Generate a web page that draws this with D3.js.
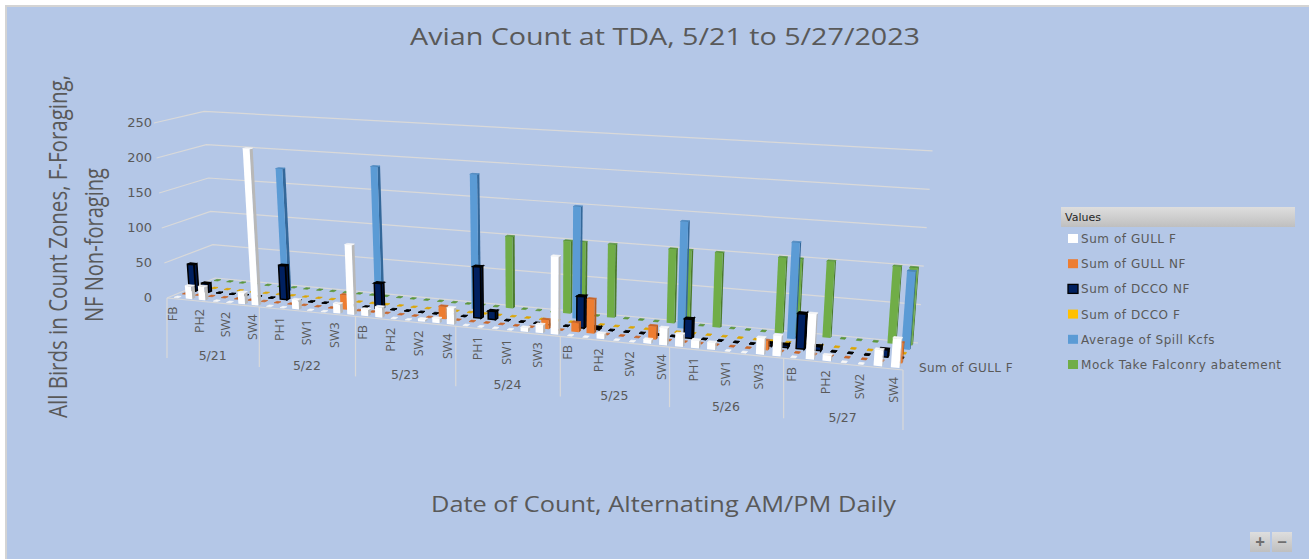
<!DOCTYPE html>
<html>
<head>
<meta charset="utf-8">
<script src="https://cdn.jsdelivr.net/npm/d3@7"></script>
<style>
  html, body { margin: 0; padding: 0; background: #ffffff; }
  text { font-family: "Open Sans", sans-serif; fill: #595959; }
  .wide { font-family: "DejaVu Sans", sans-serif; }
</style>
</head>
<body>
<svg id="chart" width="1309" height="559"></svg>
<script>
const days = ['5/21', '5/22', '5/23', '5/24', '5/25', '5/26', '5/27'];
const zones = ['FB', 'PH1', 'PH2', 'SW1', 'SW2', 'SW3', 'SW4'];
const yTicks = [0, 50, 100, 150, 200, 250];
const seriesNames = ['Sum of GULL F', 'Sum of GULL NF', 'Sum of DCCO NF', 'Sum of DCCO F', 'Average of Spill Kcfs', 'Mock Take Falconry abatement'];

// one row per day, FB..SW4
const gullF = [
  0, 18, 19, 0, 0, 16, 220,
  0, 0, 13, 0, 0, 13, 96,
  9, 14, 0, 0, 3, 6, 22,
  0, 0, 0, 0, 5, 11, 103,
  0, 0, 7, 0, 0, 5, 22,
  16, 10, 9, 0, 0, 21, 26,
  0, 57, 7, 0, 0, 20, 36
];
const gullNF = [
  0, 0, 0, 0, 0, 0, 0,
  0, 0, 0, 0, 0, 20, 0,
  0, 0, 0, 0, 0, 17, 0,
  0, 0, 0, 0, 0, 12, 0,
  12, 45, 0, 0, 0, 17, 0,
  0, 0, 0, 0, 0, 12, 0,
  0, 0, 0, 0, 0, 0, 25
];
const dccoNF = [
  38, 12, 0, 0, 0, 0, 0,
  48, 0, 0, 0, 0, 0, 0,
  35, 0, 0, 0, 0, 0, 0,
  70, 11, 0, 0, 0, 0, 0,
  42, 2, 0, 0, 0, 0, 0,
  25, 0, 0, 0, 0, 3, 3,
  45, 5, 0, 0, 0, 9, 0
];
const dccoF = [
  0, 0, 0, 0, 0, 0, 0,
  0, 0, 0, 0, 0, 0, 0,
  0, 0, 0, 0, 0, 0, 0,
  0, 0, 0, 0, 0, 0, 0,
  2, 0, 0, 0, 0, 0, 0,
  0, 0, 0, 0, 0, 0, 0,
  0, 0, 0, 0, 0, 0, 0
];
const spill = [
  null, null, null, null, null, null, 178,
  null, null, null, null, null, null, 190,
  null, null, null, null, null, null, 188,
  null, null, null, null, null, null, 153,
  null, null, null, null, null, null, 143,
  null, null, null, null, null, null, 126,
  null, null, null, null, null, null, 100
];
const mockTake = [
  0, 0, 0, 0, 0, 0, 0,
  0, 0, 0, 0, 0, 0, 0,
  0, 0, 0, 0, 0, 0, 0,
  0, 100, 0, 0, 0, 100, 100,
  0, 100, 0, 0, 0, 100, 100,
  0, 100, 0, 0, 0, 100, 100,
  0, 100, 0, 0, 0, 100, 100
];
const seriesValues = [gullF, gullNF, dccoNF, dccoF, spill, mockTake];

const faceColors = [
  {front: '#ffffff', side: '#b8b8b8', top: '#f7f7f7', stroke: 'none'},
  {front: '#ed7d31', side: '#b05a20', top: '#c8652a', stroke: 'none'},
  {front: '#002060', side: '#001540', top: '#000000', stroke: '#000000'},
  {front: '#ffc000', side: '#bf9000', top: '#dca500', stroke: 'none'},
  {front: '#5b9bd5', side: '#34689a', top: '#4a86bd', stroke: 'none'},
  {front: '#70ad47', side: '#4b7a2d', top: '#5c9639', stroke: 'none'}
];

// Pixel corners of the chart floor: front-left, front-right, back-right, back-left
const floorQuad = [[167, 298], [903, 370], [918, 343], [215, 278]];
const wallHeight = 175;   // pixels for the full y range at the front-left corner
const vanishX = 540;      // uprights lean away from this x
const lean = 0.0002;

// Unit square to quad homography, so the date axis foreshortens like the original
function quadMap(q) {
  const [[x0, y0], [x1, y1], [x2, y2], [x3, y3]] = q;
  const sx = x0 - x1 + x2 - x3, sy = y0 - y1 + y2 - y3;
  const dx1 = x1 - x2, dy1 = y1 - y2, dx2 = x3 - x2, dy2 = y3 - y2;
  const det = dx1 * dy2 - dx2 * dy1;
  const g = (sx * dy2 - dx2 * sy) / det;
  const h = (dx1 * sy - sx * dy1) / det;
  const a = x1 - x0 + g * x1, b = x3 - x0 + h * x3;
  const d = y1 - y0 + g * y1, e = y3 - y0 + h * y3;
  return (u, v) => {
    const w = g * u + h * v + 1;
    return [(a * u + b * v + x0) / w, (d * u + e * v + y0) / w, w];
  };
}
const floorMap = quadMap(floorQuad);

const catIndex = d3.range(days.length * zones.length);
const xScale = d3.scaleBand().domain(catIndex).range([0, 1]).paddingInner(0.5).paddingOuter(0.25);
const depthScale = d3.scaleBand().domain(seriesNames).range([0, 1]).paddingInner(0.62).paddingOuter(0.31);
const yScale = d3.scaleLinear().domain([0, 250]).range([0, wallHeight]);
const zeroInset = 0.2;    // empty slots draw as a smaller dot than a real bar

function project(u, v, value) {
  const [x, y, w] = floorMap(u, v);
  const h = yScale(value) / w;
  return [x + (x - vanishX) * lean * h, y - h];
}
const line = d3.line();
const slotU = i => xScale(i) + xScale.bandwidth() / 2;

const svg = d3.select('#chart');

svg.append('rect').attr('width', 1309).attr('height', 559).attr('fill', '#ffffff');
svg.append('rect').attr('x', 5).attr('y', 5).attr('width', 1304).attr('height', 554).attr('fill', '#d4d4d4');
svg.append('rect').attr('x', 7).attr('y', 7).attr('width', 1302).attr('height', 552).attr('fill', '#b4c7e7');

// walls
const gridG = svg.append('g').attr('fill', 'none').attr('stroke', '#d9d9d9').attr('stroke-width', 1.2);
yTicks.forEach(t => {
  gridG.append('path').attr('d', line([project(0, 0, t), project(0, 1, t), project(1, 1, t)]));
});
gridG.append('path').attr('d', line([project(0, 0, 0), project(1, 0, 0)]));

svg.append('g').selectAll('text')
  .data(yTicks)
  .join('text')
    .attr('class', 'wide')
    .attr('x', 152)
    .attr('y', d => project(0, 0, d)[1] + 4)
    .attr('text-anchor', 'end')
    .attr('font-size', 13)
    .text(d => d);

// axis labels under the front edge
const axisG = svg.append('g');
d3.range(days.length + 1).forEach(i => {
  const p = project(i / days.length, 0, 0);
  axisG.append('line')
    .attr('x1', p[0]).attr('x2', p[0])
    .attr('y1', p[1]).attr('y2', p[1] + 60)
    .attr('stroke', '#d9d9d9').attr('stroke-width', 1.2);
});
days.forEach((d, i) => {
  const p = project((i + 0.5) / days.length, 0, 0);
  axisG.append('text')
    .attr('class', 'wide')
    .attr('x', p[0]).attr('y', p[1] + 58)
    .attr('text-anchor', 'middle')
    .attr('font-size', 12.5)
    .text(d);
});
catIndex.filter(i => i % 2 === 0).forEach(i => {
  const p = project(slotU(i), 0, 0);
  axisG.append('text')
    .attr('transform', `translate(${p[0] + 4},${p[1] + 8}) rotate(-90)`)
    .attr('text-anchor', 'end')
    .attr('font-size', 12.5)
    .text(zones[i % zones.length]);
});

// bars, back row first so the nearer rows cover them
const barsG = svg.append('g');
function boxFaces(i, name, value) {
  const inset = value === 0 ? xScale.bandwidth() * zeroInset : 0;
  const u0 = xScale(i) + inset, u1 = xScale(i) + xScale.bandwidth() - inset;
  const v0 = depthScale(name), v1 = v0 + depthScale.bandwidth();
  return {
    front: [project(u0, v0, 0), project(u1, v0, 0), project(u1, v0, value), project(u0, v0, value)],
    side: [project(u1, v0, 0), project(u1, v1, 0), project(u1, v1, value), project(u1, v0, value)],
    top: [project(u0, v0, value), project(u1, v0, value), project(u1, v1, value), project(u0, v1, value)]
  };
}
d3.range(seriesNames.length - 1, -1, -1).forEach(s => {
  const name = seriesNames[s], col = faceColors[s];
  const rows = catIndex.filter(i => seriesValues[s][i] !== null);
  const bar = barsG.append('g').selectAll('g')
    .data(rows)
    .join('g');
  [['side', col.side], ['top', col.top], ['front', col.front]].forEach(([face, fill]) => {
    bar.append('path')
      .attr('d', i => line(boxFaces(i, name, seriesValues[s][i])[face]) + 'Z')
      .attr('fill', fill)
      // the top stays thick enough to read as a dot when the value is 0
      .attr('stroke', col.stroke !== 'none' ? col.stroke : (face === 'top' ? fill : 'none'))
      .attr('stroke-width', i => {
        if (col.stroke !== 'none') return seriesValues[s][i] > 0 ? 1.5 : 0.8;
        return face === 'top' ? 0.7 : 0;
      });
  });
});

// series depth label
svg.append('text').attr('class', 'wide').attr('x', 919).attr('y', 372).attr('font-size', 12)
  .attr('letter-spacing', 0.45).text('Sum of GULL F');

// titles
svg.append('text').attr('x', 410).attr('y', 45)
  .attr('font-size', 24)
  .attr('textLength', 510).attr('lengthAdjust', 'spacingAndGlyphs')
  .text('Avian Count at TDA, 5/21 to 5/27/2023');
svg.append('text').attr('x', 431).attr('y', 512)
  .attr('font-size', 21)
  .attr('textLength', 465).attr('lengthAdjust', 'spacingAndGlyphs')
  .text('Date of Count, Alternating AM/PM Daily');
svg.append('text').attr('transform', 'translate(67,418) rotate(-90)')
  .attr('font-size', 25)
  .attr('textLength', 343).attr('lengthAdjust', 'spacingAndGlyphs')
  .text('All Birds in Count Zones, F-Foraging,');
svg.append('text').attr('transform', 'translate(103,322) rotate(-90)')
  .attr('font-size', 25)
  .attr('textLength', 154).attr('lengthAdjust', 'spacingAndGlyphs')
  .text('NF Non-foraging');

// legend
const defs = svg.append('defs');
const grad = defs.append('linearGradient').attr('id', 'btn').attr('x1', 0).attr('x2', 0).attr('y1', 0).attr('y2', 1);
grad.append('stop').attr('offset', 0).attr('stop-color', '#dedede');
grad.append('stop').attr('offset', 1).attr('stop-color', '#bfbfbf');

const legend = svg.append('g');
legend.append('rect').attr('x', 1061).attr('y', 207).attr('width', 234).attr('height', 20).attr('fill', 'url(#btn)');
legend.append('text').attr('class', 'wide').attr('x', 1065).attr('y', 221).attr('font-size', 11).style('fill', '#262626').text('Values');
const legendY = d3.scalePoint().domain(seriesNames).range([239, 365]);
const entry = legend.selectAll('g.entry')
  .data(seriesNames)
  .join('g')
    .attr('class', 'entry')
    .attr('transform', d => `translate(0,${legendY(d)})`);
entry.append('rect')
  .attr('x', 1068).attr('y', -5).attr('width', 10).attr('height', 9)
  .attr('fill', (d, i) => faceColors[i].front)
  .attr('stroke', (d, i) => i === 2 ? '#000000' : 'none')
  .attr('stroke-width', 1.3);
entry.append('text')
  .attr('class', 'wide')
  .attr('x', 1081).attr('y', 4)
  .attr('font-size', 12)
  .attr('letter-spacing', 0.55)
  .text(d => d);

// zoom buttons
const btnG = svg.append('g');
[['+', 1250], ['\u2212', 1272]].forEach(([label, x]) => {
  btnG.append('rect').attr('x', x).attr('y', 532).attr('width', 20).attr('height', 20).attr('fill', 'url(#btn)');
  btnG.append('text').attr('x', x + 10).attr('y', 548)
    .attr('text-anchor', 'middle').attr('font-size', 17).attr('font-weight', 700)
    .style('fill', '#6f6f6f').text(label);
});
</script>
</body>
</html>
